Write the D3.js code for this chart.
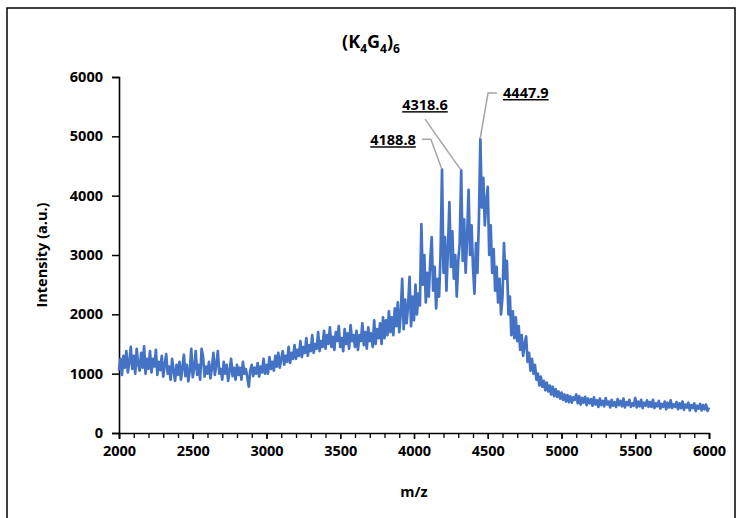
<!DOCTYPE html>
<html>
<head>
<meta charset="utf-8">
<script src="https://cdn.jsdelivr.net/npm/d3@7"></script>
<style>
  body { margin: 0; background: #fff; }
  text { font-family: "Open Sans", sans-serif; font-weight: bold; fill: #000; }
</style>
</head>
<body>
<script>
// spectrum: intensity every 10 m/z from 2000 to 6000
var mzStart = 2000, mzEnd = 6000, mzStep = 10;
var intensity = [
  1050,1250,980,1300,1100,1380,1020,1200,1450,1080,1300,1000,1420,1150,1050,1350,1100,1460,1000,1250,
  1080,1380,1020,1250,1120,1400,980,1200,1060,1300,950,1150,1330,1000,1120,900,1250,1050,880,1150,
  980,1200,900,1100,1320,960,1150,870,1050,1420,940,1100,1380,980,1150,900,1420,1280,950,1120,
  1000,1200,920,1100,1350,980,1150,1380,1000,1080,900,1200,1000,1150,880,1050,1250,960,1100,900,
  1150,980,1100,900,1200,1000,1080,940,780,1050,1150,960,1100,1000,1180,950,1120,1020,1250,1000,
  1150,1000,1280,1080,1200,1050,1300,1120,1350,1100,1250,1380,1150,1300,1200,1450,1180,1350,1250,1480,
  1250,1400,1300,1550,1280,1450,1350,1600,1300,1480,1380,1650,1350,1500,1420,1700,1380,1550,1450,1720,
  1420,1650,1500,1780,1450,1620,1400,1700,1550,1800,1450,1600,1380,1750,1500,1680,1420,1820,1550,1650,
  1450,1720,1400,1650,1550,1850,1480,1700,1420,1780,1550,1680,1450,1900,1500,1750,1600,1850,1500,1950,
  1600,1900,1650,2050,1700,1950,1650,2100,1800,2200,1700,2000,2600,1750,2250,1850,2150,2630,1800,2300,
  1900,2500,2000,2350,2150,3520,2500,3000,2200,2700,2300,2900,3300,2400,2800,2100,2600,2300,3000,4445,
  2700,3300,2400,3100,3890,2800,3400,2600,3000,2300,2900,3200,4430,2900,3600,2700,3300,4100,3000,3500,
  2800,2350,3200,2700,3600,4955,3800,4300,3500,3900,4150,3000,3500,2700,3100,2400,2800,2200,2600,2000,
  2300,3200,2600,2900,2000,2300,1650,2050,1600,1950,1550,1800,1400,1650,1300,1500,1630,1200,1350,1050,
  1250,1000,1150,900,1000,800,950,780,880,720,850,700,800,650,780,620,740,610,700,580,
  680,560,650,530,640,520,620,510,600,560,650,500,620,480,590,510,610,470,580,500,
  570,460,600,480,550,440,580,470,540,450,590,480,530,430,560,460,520,440,570,470,
  540,450,580,430,520,470,560,440,500,460,590,430,530,450,560,420,510,460,550,440,
  520,440,560,420,500,450,540,410,490,440,530,400,510,430,550,420,480,440,520,400,
  500,420,530,390,480,430,510,380,470,420,500,370,460,410,490,380,470,400,480,370,
  430
];
var mz = d3.range(mzStart, mzEnd + 1, mzStep);

// labelled peaks
var peakLabels = ["4188.8", "4318.6", "4447.9"];
var peakMz = [4188.8, 4318.6, 4447.9];
var peakIntensity = [4445, 4430, 4955];

var xTicks = [2000, 2500, 3000, 3500, 4000, 4500, 5000, 5500, 6000];
var yTicks = [0, 1000, 2000, 3000, 4000, 5000, 6000];

var svgWidth = 740, svgHeight = 518;
var margin = { top: 77, right: 31, bottom: 85, left: 119 };
var width = svgWidth - margin.left - margin.right;
var height = svgHeight - margin.top - margin.bottom;

var svg = d3.select("body").append("svg")
  .attr("width", svgWidth)
  .attr("height", svgHeight);

// chart frame
svg.append("rect")
  .attr("x", 7).attr("y", 8)
  .attr("width", 728).attr("height", 530)
  .attr("fill", "none").attr("stroke", "#000").attr("stroke-width", 1.5);

var chartGroup = svg.append("g")
  .attr("transform", `translate(${margin.left}, ${margin.top})`);

var x = d3.scaleLinear().domain([2000, 6000]).range([0, width]);
var y = d3.scaleLinear().domain([0, 6000]).range([height, 0]);

// minor ticks on x axis
chartGroup.append("g")
  .attr("transform", `translate(0, ${height})`)
  .call(d3.axisBottom(x).tickValues(d3.range(2000, 6001, 100)).tickSize(5).tickFormat(""))
  .call(g => g.select(".domain").remove())
  .selectAll("line").attr("stroke-width", 1.3);

var bottomAxis = d3.axisBottom(x).tickValues(xTicks).tickSize(6).tickPadding(7).tickFormat(d3.format("d"));
var leftAxis = d3.axisLeft(y).tickValues(yTicks).tickSize(7).tickPadding(9).tickFormat(d3.format("d"));

var xAxisG = chartGroup.append("g")
  .attr("transform", `translate(0, ${height})`)
  .call(bottomAxis);
var yAxisG = chartGroup.append("g").call(leftAxis);

[xAxisG, yAxisG].forEach(function(g) {
  g.select(".domain").attr("stroke-width", 1.6);
  g.selectAll(".tick line").attr("stroke-width", 1.5);
  g.selectAll("text").style("font-size", "14.5px").style("font-family", "'Open Sans', sans-serif").style("font-weight", "bold");
});

// spectrum line
var line = d3.line()
  .x((d, i) => x(mz[i]))
  .y(d => y(d));

chartGroup.append("path")
  .datum(intensity)
  .attr("d", line)
  .attr("fill", "none")
  .attr("stroke", "#4472C4")
  .attr("stroke-width", 2.7)
  .attr("stroke-linejoin", "round");

// peak callouts (offsets in px from the peak)
var callout = [
  { pts: [[-11, -30], [-20, -30]], tx: -26, ty: -24, anchor: "end" },
  { pts: [[-36, -51]], tx: -36, ty: -60, anchor: "middle" },
  { pts: [[8, -46], [17, -46]], tx: 23, ty: -41, anchor: "start" }
];

peakLabels.forEach(function(lab, i) {
  var px = x(peakMz[i]), py = y(peakIntensity[i]);
  var c = callout[i];
  var pts = [[px, py]].concat(c.pts.map(p => [px + p[0], py + p[1]]));
  chartGroup.append("path")
    .attr("d", d3.line()(pts))
    .attr("fill", "none")
    .attr("stroke", "#A5A5A5")
    .attr("stroke-width", 1.5);
  chartGroup.append("text")
    .attr("x", px + c.tx)
    .attr("y", py + c.ty)
    .attr("text-anchor", c.anchor)
    .style("font-size", "14.5px")
    .style("text-decoration", "underline")
    .attr("fill", "#222")
    .text(lab);
});

// title
var title = svg.append("text")
  .attr("x", 371)
  .attr("y", 48)
  .attr("text-anchor", "middle")
  .style("font-size", "18px");
title.append("tspan").text("(K");
title.append("tspan").attr("dy", 5).style("font-size", "12px").text("4");
title.append("tspan").attr("dy", -5).text("G");
title.append("tspan").attr("dy", 5).style("font-size", "12px").text("4");
title.append("tspan").attr("dy", -5).text(")");
title.append("tspan").attr("dy", 5).style("font-size", "12px").text("6");

// axis labels
svg.append("text")
  .attr("transform", "rotate(-90)")
  .attr("x", -(margin.top + height / 2))
  .attr("y", 47)
  .attr("text-anchor", "middle")
  .style("font-size", "14.5px")
  .text("Intensity (a.u.)");

svg.append("text")
  .attr("x", margin.left + width / 2)
  .attr("y", 497)
  .attr("text-anchor", "middle")
  .style("font-size", "14.5px")
  .text("m/z");
</script>
</body>
</html>
